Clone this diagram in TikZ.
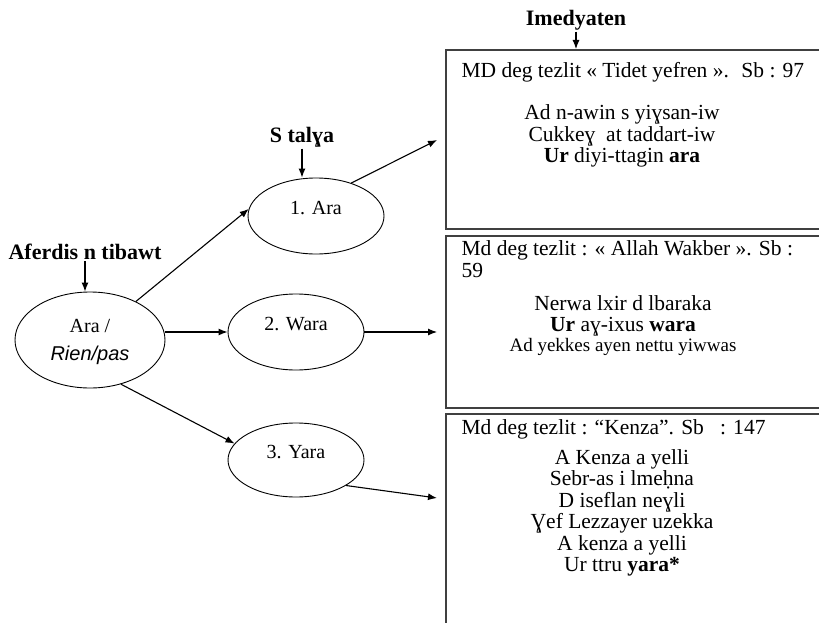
\documentclass[tikz,border=0pt]{standalone}
\usepackage{fontspec}
\setmainfont{Liberation Serif}
\setsansfont{Liberation Sans}
\usetikzlibrary{shapes.geometric,arrows.meta}

\begin{document}
\begin{tikzpicture}[x=1pt,y=-1pt,>={Latex[length=9pt,width=7pt]},line width=1.1pt,
    oval node/.style={ellipse,draw,line width=0.9pt,minimum width=136pt,minimum height=76pt,inner sep=0pt,text depth=16pt,align=center,font=\fontsize{20}{28}\selectfont},
    poem box/.style={rectangle,draw=black!75,line width=1.8pt,anchor=north west,minimum width=420pt,inner sep=0pt},
    title node/.style={inner sep=1pt,font=\fontsize{22}{24}\selectfont\bfseries},
    head node/.style={anchor=west,align=left,inner sep=0pt,font=\fontsize{21.5}{22}\selectfont},
    verse node/.style={align=center,inner sep=0pt,font=\fontsize{21.5}{21.5}\selectfont}]

    \useasboundingbox (0,0) rectangle (819,623);
    \clip (0,0) rectangle (819,623);

    % ellipses
    \node[oval node, minimum width=150pt, minimum height=96pt, text depth=0pt] (ara0) at (90,340) {Ara /\\\textsf{\itshape Rien/pas}};
    \node[oval node] (ara1) at (316,216) {1. Ara};
    \node[oval node] (wara) at (296,332) {2. Wara};
    \node[oval node, minimum height=74pt] (yara) at (296,460) {3. Yara};

    \node[title node] (aferdis) at (85,252) {Aferdis n tibawt};
    \node[title node] (stalya) at (302,137) {S talɣa};
    \node[title node] (imedyaten) at (576,20) {Imedyaten};

    % boxes
    \node[poem box, minimum height=179pt] (box1) at (445,49) {};
    \node[poem box, minimum height=172pt] (box2) at (445,235) {};
    \node[poem box, minimum height=230pt] (box3) at (445,413) {};

    \node[head node] (head1) at (461,72) {MD deg tezlit « Tidet yefren ».~ Sb : 97};
    \node[verse node] (verse1) at (622,136) {Ad n-awin s yiɣsan-iw\\Cukkeɣ~ at taddart-iw\\\textbf{Ur} diyi-ttagin \textbf{ara}};

    \node[head node] (head2) at (461,259) {Md deg tezlit : « Allah Wakber ». Sb :\\59};
    \node[verse node] (verse2) at (623,316) {Nerwa lxir d lbaraka\\\textbf{Ur} aɣ-ixus \textbf{wara}};
    \node[verse node, font=\fontsize{19}{21}\selectfont] (verse2b) at (623,347) {Ad yekkes ayen nettu yiwwas};

    \node[head node] (head3) at (461,429) {Md deg tezlit : “Kenza”. Sb~~ : 147};
    \node[verse node] (verse3) at (622,513) {A Kenza a yelli\\Sebr-as i lmeḥna\\D iseflan neɣli\\Ɣef Lezzayer uzekka\\A kenza a yelli\\Ur ttru \textbf{yara*}};

    \coordinate (t1) at (437,140);
    \coordinate (t2) at (437,332);
    \coordinate (t3) at (437,498);

    \path[->]
        (aferdis.south) edge (aferdis.south |- ara0.north)
        (stalya.south) edge (stalya.south |- ara1.north)
        (imedyaten.south) edge (imedyaten.south |- box1.north)
        (ara0.40) edge (ara1.174)
        (wara.west -| ara0.east) edge (wara.west)
        (ara0.-55) edge (yara.165)
        (ara1.43) edge (t1)
        (wara.east) edge (t2)
        (yara.-27) edge (t3)
    ;
\end{tikzpicture}
\end{document}
